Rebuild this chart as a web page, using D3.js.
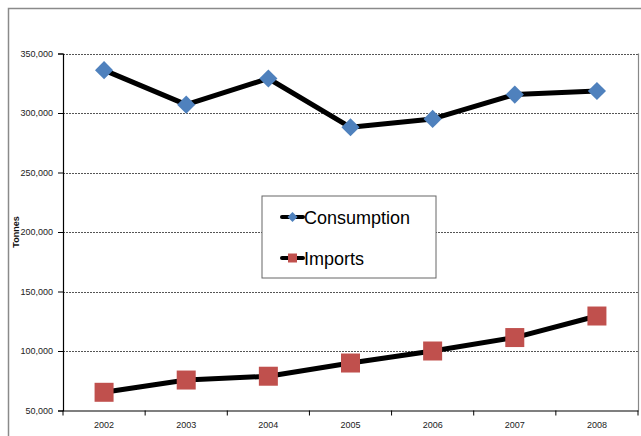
<!DOCTYPE html>
<html>
<head>
<meta charset="utf-8">
<script src="https://cdn.jsdelivr.net/npm/d3@7/dist/d3.min.js"></script>
<style>
  body { margin: 0; background: #fff; }
  svg text { font-family: "Liberation Sans", Arial, sans-serif; }
</style>
</head>
<body>
<div id="chart"></div>
<script>
// data
var years = ["2002", "2003", "2004", "2005", "2006", "2007", "2008"];
var consumption = [336000, 307000, 329000, 288000, 295000, 315500, 318500];
var imports = [65300, 75600, 78800, 89900, 100000, 111300, 129400];
var yTicks = [50000, 100000, 150000, 200000, 250000, 300000, 350000];

var width = 641, height = 436;
var margin = {top: 53.5, right: 3, bottom: 25.5, left: 63};

var svg = d3.select("#chart")
  .append("svg")
  .attr("width", width)
  .attr("height", height);

// outer chart frame (only top and left are in view)
svg.append("path")
  .attr("d", "M8.5," + height + "V8.5H" + width)
  .style("fill", "none")
  .style("stroke", "#8a8a8a")
  .style("stroke-width", 1.5);

var x = d3.scaleBand()
  .domain(years)
  .range([margin.left, width - margin.right]);

var y = d3.scaleLinear()
  .domain([50000, 350000])
  .range([height - margin.bottom, margin.top]);

var fmt = d3.format(",");

// gridlines
svg.append("g")
  .selectAll("line")
  .data(yTicks.slice(1))
  .enter().append("line")
    .attr("x1", margin.left)
    .attr("x2", width - margin.right)
    .attr("y1", function(d) { return Math.round(y(d)) + 0.5; })
    .attr("y2", function(d) { return Math.round(y(d)) + 0.5; })
    .style("stroke", "#555")
    .style("stroke-width", 1)
    .style("stroke-dasharray", "2,1");

// right border of the plot
svg.append("line")
  .attr("x1", width - margin.right + 0.5)
  .attr("x2", width - margin.right + 0.5)
  .attr("y1", y(350000))
  .attr("y2", y(50000))
  .style("stroke", "#888")
  .style("stroke-width", 1.2);

// y axis
var yAxis = svg.append("g")
  .attr("transform", "translate(" + margin.left + ",0)")
  .call(d3.axisLeft(y).tickValues(yTicks).tickFormat(fmt).tickSize(5).tickPadding(5));
yAxis.select(".domain").style("stroke", "#000").style("stroke-width", 1.2);
yAxis.selectAll(".tick line").style("stroke", "#000");
yAxis.selectAll("text").style("font-size", "9px").style("fill", "#222");

// x axis
var xAxis = svg.append("g")
  .attr("transform", "translate(0," + y(50000) + ")")
  .call(d3.axisBottom(x).tickSize(0).tickPadding(11));
xAxis.select(".domain").style("stroke", "#000").style("stroke-width", 1.2);
xAxis.selectAll("text").style("font-size", "9px").style("fill", "#222");
// tick marks between categories
xAxis.append("g")
  .selectAll("line")
  .data(years)
  .enter().append("line")
    .attr("x1", function(d) { return x(d); })
    .attr("x2", function(d) { return x(d); })
    .attr("y1", 0)
    .attr("y2", 5)
    .style("stroke", "#000");
xAxis.append("line")
  .attr("x1", x.range()[1]).attr("x2", x.range()[1])
  .attr("y1", 0).attr("y2", 5)
  .style("stroke", "#000");

// y axis title
svg.append("text")
  .attr("transform", "translate(19,232) rotate(-90)")
  .attr("text-anchor", "middle")
  .style("font-size", "9px")
  .style("font-weight", "bold")
  .style("fill", "#111")
  .text("Tonnes");

var cx = function(i) { return x(years[i]) + x.bandwidth() / 2; };

var line = d3.line()
  .x(function(d, i) { return cx(i); })
  .y(function(d) { return y(d); });

function drawSeries(values, symbolType, size, rot, color) {
  svg.append("path")
    .datum(values)
    .attr("d", line)
    .style("fill", "none")
    .style("stroke", "#000")
    .style("stroke-width", 5)
    .style("stroke-linejoin", "round");

  svg.append("g")
    .selectAll("path")
    .data(values)
    .enter().append("path")
      .attr("d", d3.symbol().type(symbolType).size(size))
      .attr("transform", function(d, i) {
        return "translate(" + cx(i) + "," + y(d) + ") rotate(" + rot + ")";
      })
      .style("fill", color);
}

drawSeries(consumption, d3.symbolSquare, 165, 45, "#4f81bd");
drawSeries(imports, d3.symbolSquare, 361, 0, "#c0504d");

// legend
var legend = svg.append("g");
legend.append("rect")
  .attr("x", 262).attr("y", 196)
  .attr("width", 174).attr("height", 82)
  .style("fill", "#fff")
  .style("stroke", "#666")
  .style("stroke-width", 1);

var legendItems = [
  {name: "Consumption", rot: 45, size: 50, color: "#4f81bd", cy: 217},
  {name: "Imports", rot: 0, size: 81, color: "#c0504d", cy: 258}
];

legendItems.forEach(function(it) {
  legend.append("line")
    .attr("x1", 282).attr("x2", 303)
    .attr("y1", it.cy).attr("y2", it.cy)
    .style("stroke", "#000")
    .style("stroke-width", 4)
    .style("stroke-linecap", "round");
  legend.append("path")
    .attr("d", d3.symbol().type(d3.symbolSquare).size(it.size))
    .attr("transform", "translate(292.5," + it.cy + ") rotate(" + it.rot + ")")
    .style("fill", it.color);
  legend.append("text")
    .attr("x", 304)
    .attr("y", it.cy + 6.5)
    .style("font-size", "18px")
    .style("fill", "#000")
    .text(it.name);
});
</script>
</body>
</html>
